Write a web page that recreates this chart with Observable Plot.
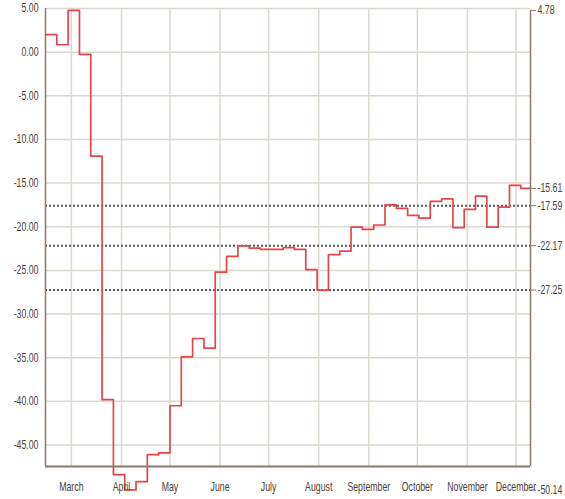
<!DOCTYPE html>
<html>
<head>
<meta charset="utf-8">
<script src="https://cdn.jsdelivr.net/npm/d3@7"></script>
<script src="https://cdn.jsdelivr.net/npm/@observablehq/plot@0.6"></script>
<style>
  html, body { margin: 0; padding: 0; background: #fff; }
  #chart { width: 565px; height: 499px; }
</style>
</head>
<body>
<div id="chart"></div>
<script>
// Weekly observations (step data)
const dates = [
  "2010-02-13","2010-02-20","2010-02-27","2010-03-06","2010-03-13","2010-03-20","2010-03-27",
  "2010-04-03","2010-04-10","2010-04-17","2010-04-24","2010-05-01","2010-05-08","2010-05-15",
  "2010-05-22","2010-05-29","2010-06-05","2010-06-12","2010-06-19","2010-06-26","2010-07-03",
  "2010-07-10","2010-07-17","2010-07-24","2010-07-31","2010-08-07","2010-08-14","2010-08-21",
  "2010-08-28","2010-09-04","2010-09-11","2010-09-18","2010-09-25","2010-10-02","2010-10-09",
  "2010-10-16","2010-10-23","2010-10-30","2010-11-06","2010-11-13","2010-11-20","2010-11-27",
  "2010-12-04","2010-12-10"
];
const values = [
  2.0, 0.85, 4.78, -0.26, -11.9, -39.8, -48.4,
  -50.14, -49.2, -46.1, -45.9, -40.5, -34.9, -32.8,
  -33.9, -25.2, -23.4, -22.2, -22.45, -22.6, -22.6,
  -22.4, -22.6, -24.9, -27.25, -23.2, -22.8, -20.05,
  -20.3, -19.8, -17.5, -17.9, -18.7, -19.0, -17.1,
  -16.8, -20.1, -18.0, -16.5, -20.05, -17.75, -15.27,
  -15.61, -15.61
];
// Axis tick values
const leftTicks = [5, 0, -5, -10, -15, -20, -25, -30, -35, -40, -45];
const rightTicks = [4.78, -15.61, -17.59, -22.17, -27.25, -50.14];
const refLines = [-17.59, -22.17, -27.25];
const monthTicks = ["2010-03-01","2010-04-01","2010-05-01","2010-06-01","2010-07-01",
  "2010-08-01","2010-09-01","2010-10-01","2010-11-01","2010-12-01"];
const monthNames = ["March","April","May","June","July","August","September","October","November","December"];
const yDomain = [-47.46, 5.0];

const data = dates.map((d, i) => ({date: new Date(d), value: values[i]}));
const months = monthTicks.map(d => new Date(d));
const xStart = data[0].date, xEnd = data[data.length - 1].date;
const maxVal = d3.max(values);

const axisColor = "#8a7a64";
const gridColor = "#ddd8cf";

const chart = Plot.plot({
  width: 565,
  height: 499,
  marginLeft: 45,
  marginRight: 35,
  marginTop: 8,
  marginBottom: 33,
  style: {
    fontFamily: "'Liberation Sans', Arial, sans-serif",
    fontSize: "12px",
    color: "#4a4036",
    background: "#fff",
    overflow: "visible"
  },
  x: {type: "utc", domain: [xStart, xEnd], axis: null},
  y: {domain: yDomain, axis: null},
  marks: [
    Plot.gridY(leftTicks, {stroke: gridColor, strokeOpacity: 1, strokeWidth: 1.5}),
    Plot.gridX(months, {stroke: gridColor, strokeOpacity: 1, strokeWidth: 1.5}),
    Plot.ruleY(refLines, {stroke: "#555", strokeWidth: 2, strokeDasharray: "2,2"}),
    Plot.line(data, {x: "date", y: "value", curve: "step-after", stroke: "#e8454a", strokeWidth: 1.7}),
    Plot.ruleX([xStart], {y1: yDomain[1], y2: yDomain[0], stroke: axisColor, strokeWidth: 1.5}),
    Plot.ruleX([xEnd], {y1: maxVal, y2: yDomain[0], stroke: axisColor, strokeWidth: 1.5}),
    Plot.ruleY([yDomain[0]], {stroke: axisColor, strokeWidth: 2}),
    Plot.axisY(leftTicks, {anchor: "left", label: null, tickSize: 0, tickPadding: 7, tickFormat: d => d.toFixed(2)}),
    Plot.axisY(rightTicks, {anchor: "right", label: null, tickSize: 5, tickPadding: 2, stroke: axisColor, tickFormat: d => d.toFixed(2)}),
    Plot.axisX(months, {anchor: "bottom", label: null, tickSize: 0, tickPadding: 16, tickFormat: (d, i) => monthNames[i]})
  ]
});
// Narrow (condensed) look of the original labels
d3.select(chart).selectAll("text").each(function() {
  const t = this.getAttribute("transform") || "";
  this.setAttribute("transform", (t + " scale(0.73,1)").trim());
});
document.getElementById("chart").appendChild(chart);
</script>
</body>
</html>
